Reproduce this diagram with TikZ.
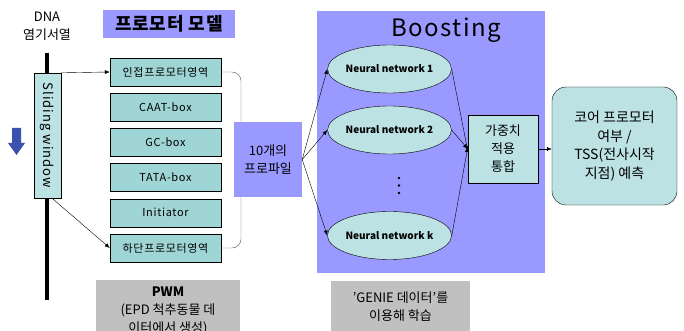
\documentclass[tikz,border=0pt]{standalone}
\usepackage{fontspec}
\setmainfont{Noto Sans CJK KR}
\usetikzlibrary{positioning, arrows.meta, shapes.geometric}
\definecolor{lav}{HTML}{9999FF}
\definecolor{boxfill}{HTML}{A0D5D5}
\definecolor{lightfill}{HTML}{BCE2E4}
\definecolor{greyfill}{HTML}{C0C0C0}
\definecolor{arrowblue}{HTML}{3A52AE}
% wide tracking like the screen font
\newcommand{\wide}[1]{\addfontfeature{LetterSpace=#1}}
\tikzset{>={Latex[length=5pt, width=4pt]}, node distance = 6.8pt,
  part/.style={draw, fill=boxfill, minimum width=111pt, minimum height=28pt,
    font=\fontsize{11}{13}\selectfont\wide{6}},
  nn/.style={ellipse, draw, fill=lightfill, inner sep=0pt, minimum width=118pt, minimum height=48pt,
    font=\bfseries\fontsize{10}{12}\selectfont},
  big/.style={font=\fontsize{13}{18}\selectfont, align=center},
  note/.style={big, fill=greyfill, anchor=north}}

\begin{document}
\begin{tikzpicture}[x=1pt, y=-1pt]
    \useasboundingbox (0,0) rectangle (684,331);
    % DNA strand with the sliding window on it
    \node[big] (dna) at (47,26) {DNA\\염기서열};
    \draw[line width=3.5pt] (47,53) -- (47,300);
    \node[draw, fill=lightfill, minimum width=27pt, minimum height=125pt] (sw) at (47.5,135.5) {};
    \node[rotate=-90, font=\fontsize{13}{14}\selectfont\wide{8}] at (sw.center) {Sliding window};
    \fill[arrowblue] (12,128) -- (21,128) -- (21,143) -- (25,143) -- (16.5,155) -- (8,143) -- (12,143) -- cycle;

    % promoter model parts
    \node[fill=lav, minimum width=132pt, minimum height=28pt, font=\bfseries\fontsize{18}{20}\selectfont\wide{5}] (title) at (169,24) {프로모터 모델};
    \node[part] (b1) at (165.5,72) {인접프로모터영역};
    \node[part, below=of b1] (b2) {CAAT-box};
    \node[part, below=of b2] (b3) {GC-box};
    \node[part, below=of b3] (b4) {TATA-box};
    \node[part, below=of b4] (b5) {Initiator};
    \node[part, below=of b5] (b6) {하단프로모터영역};
    \node[note, minimum width=144pt, minimum height=62pt] (pwm) at (168,280) {\textbf{PWM}\\(EPD 척추동물 데\\이터에서 생성)};

    \node[big, fill=lav, minimum width=68pt, minimum height=75pt] (prof) at (268,159.5) {10개의\\프로파일};

    % boosting block
    \node[fill=lav, minimum width=228pt, minimum height=262pt] (boost) at (431,142) {};
    \node[font=\fontsize{24}{26}\selectfont\wide{6}] at (446,30) {Boosting};
    \node[nn] (nn1) at (389.5,69) {Neural network 1};
    \node[nn] (nn2) at (389.5,130) {Neural network 2};
    \node[nn] (nnk) at (389.5,235.5) {Neural network k};
    \foreach \y in {178,185.5,193} \fill (399,\y) circle (1.4pt);
    \node[big, draw, fill=lightfill, minimum width=70pt, minimum height=68pt] (agg) at (503,149) {가중치\\적용\\통합};
    \node[note, minimum width=139pt, minimum height=50pt] (genie) at (400.5,281) {'GENIE 데이터'를\\이용해 학습};

    \node[big, draw, fill=lightfill, rounded corners=14pt, minimum width=125pt, minimum height=118pt, font=\fontsize{14}{18.5}\selectfont] (out) at (614.5,146) {코어 프로모터\\여부 /\\TSS(전사시작\\지점) 예측};

    \draw[->] (sw.north east) -- (b1.west);
    \draw[->] ([xshift=4.5pt]sw.south) -- (b6.west);
    \draw[black!65, rounded corners=9pt] (b1.east) -| ([xshift=-27pt]prof.north)
          (b6.east) -| ([xshift=-27pt]prof.south);
    \draw (prof.east) edge[->] (nn1.west)
          (prof.east) edge[->] (nn2.west)
          (prof.east) edge[->] (nnk.west)
          (nn1.east) edge[->] ([yshift=-2pt]agg.west)
          (nn2.east) edge[->] (agg.west)
          (nnk.east) edge[->] ([yshift=2pt]agg.west)
          (agg.east) edge[->] (out.west |- agg.east);
\end{tikzpicture}
\end{document}
